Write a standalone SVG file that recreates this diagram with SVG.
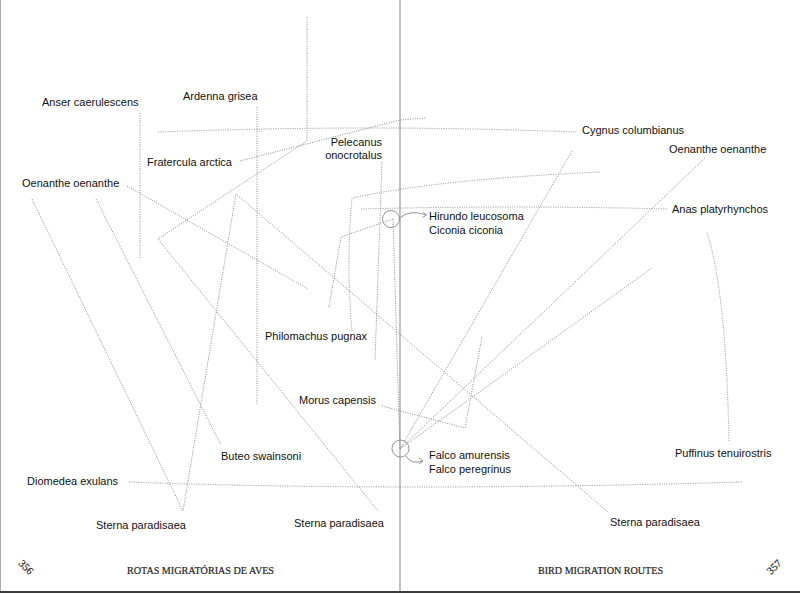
<svg xmlns="http://www.w3.org/2000/svg" width="800" height="593" viewBox="0 0 800 593">
<style>
.r{fill:none;stroke:#8c8c8c;stroke-width:1;stroke-dasharray:1 1.4}
.c{fill:none;stroke:#888;stroke-width:0.9}
.t{font-family:"Liberation Sans",Arial,sans-serif;font-size:11px;fill:#111}
.m{font-family:"Liberation Serif","Times New Roman",serif;font-size:10.5px;fill:#222;stroke:#222;stroke-width:0.2}
</style>
<rect width="800" height="593" fill="#fff"/>
<g id="page">
<line x1="0.5" y1="0" x2="0.5" y2="591" stroke="#aaa" stroke-width="1"/>
<line x1="400" y1="0" x2="400" y2="591" stroke="#999" stroke-width="1.2"/>
<rect x="0" y="591" width="800" height="2" fill="#3a3a3a"/>
</g>
<g id="connectors">
<path class="r" d="M140,113 L140,258"/>
<path class="r" d="M257,107 L257,405"/>
<path class="r" d="M307,17 L307,141 L158,239 L378,511"/>
<path class="r" d="M240,161 L400,120 L426,118"/>
<path class="r" d="M158,132 Q370,124 576,132"/>
<path class="r" d="M127,186 L308,289"/>
<path class="r" d="M32,199 L183,511 L236,194 L608,512"/>
<path class="r" d="M96,199 L221,445"/>
<path class="r" d="M382,162 L375,360"/>
<path class="r" d="M352,331 Q346,265 352,198 Q440,179 601,172"/>
<path class="r" d="M361,209 Q514,205 667,209"/>
<path class="r" d="M329,307 L341,237 L393,219"/>
<path class="r" d="M393,219 L400,449"/>
<path class="r" d="M382,406 L465,428 L482,337"/>
<path class="r" d="M400,449 L572,151"/>
<path class="r" d="M400,449 L705,158"/>
<path class="r" d="M400,449 L652,268"/>
<path class="r" d="M707,233 Q726,290 729,442"/>
<path class="r" d="M129,482 Q400,492 742,482"/>
<circle class="c" cx="391" cy="219" r="8.5"/>
<circle class="c" cx="400.5" cy="448.5" r="8.5"/>
<path class="c" d="M399.5,218 Q410,209 426,215"/>
<path class="c" d="M423,212 L426.5,215 L422.5,217.5"/>
<path class="c" d="M406,456 Q411,465 423,461"/>
<path class="c" d="M419,458 L423,461 L419,464"/>
</g>
<g id="anser"><text class="t" x="42" y="106">Anser caerulescens</text></g>
<g id="ardenna"><text class="t" x="183" y="100">Ardenna grisea</text></g>
<g id="fratercula"><text class="t" x="147" y="166">Fratercula arctica</text></g>
<g id="oenanthe-left"><text class="t" x="22" y="187">Oenanthe oenanthe</text></g>
<g id="pelecanus"><text class="t" x="382" y="146" text-anchor="end">Pelecanus</text><text class="t" x="382" y="159" text-anchor="end">onocrotalus</text></g>
<g id="cygnus"><text class="t" x="582" y="134">Cygnus columbianus</text></g>
<g id="oenanthe-right"><text class="t" x="669" y="153">Oenanthe oenanthe</text></g>
<g id="hirundo"><text class="t" x="429" y="220">Hirundo leucosoma</text><text class="t" x="429" y="234">Ciconia ciconia</text></g>
<g id="anas"><text class="t" x="672" y="213">Anas platyrhynchos</text></g>
<g id="philomachus"><text class="t" x="265" y="340">Philomachus pugnax</text></g>
<g id="morus"><text class="t" x="299" y="404">Morus capensis</text></g>
<g id="buteo"><text class="t" x="221" y="460">Buteo swainsoni</text></g>
<g id="falco"><text class="t" x="429" y="459">Falco amurensis</text><text class="t" x="429" y="473">Falco peregrinus</text></g>
<g id="puffinus"><text class="t" x="675" y="457">Puffinus tenuirostris</text></g>
<g id="diomedea"><text class="t" x="27" y="485">Diomedea exulans</text></g>
<g id="sterna-left"><text class="t" x="96" y="529">Sterna paradisaea</text></g>
<g id="sterna-mid"><text class="t" x="294" y="527">Sterna paradisaea</text></g>
<g id="sterna-right"><text class="t" x="610" y="526">Sterna paradisaea</text></g>
<g id="footer">
<text class="m" x="127" y="574" textLength="147" lengthAdjust="spacingAndGlyphs">ROTAS MIGRATÓRIAS DE AVES</text>
<text class="m" x="538" y="574" textLength="125" lengthAdjust="spacingAndGlyphs">BIRD MIGRATION ROUTES</text>
<text class="m" x="0" y="0" transform="translate(18,564) rotate(45)">356</text>
<text class="m" x="0" y="0" transform="translate(771,575) rotate(-45)">357</text>
</g>
</svg>
